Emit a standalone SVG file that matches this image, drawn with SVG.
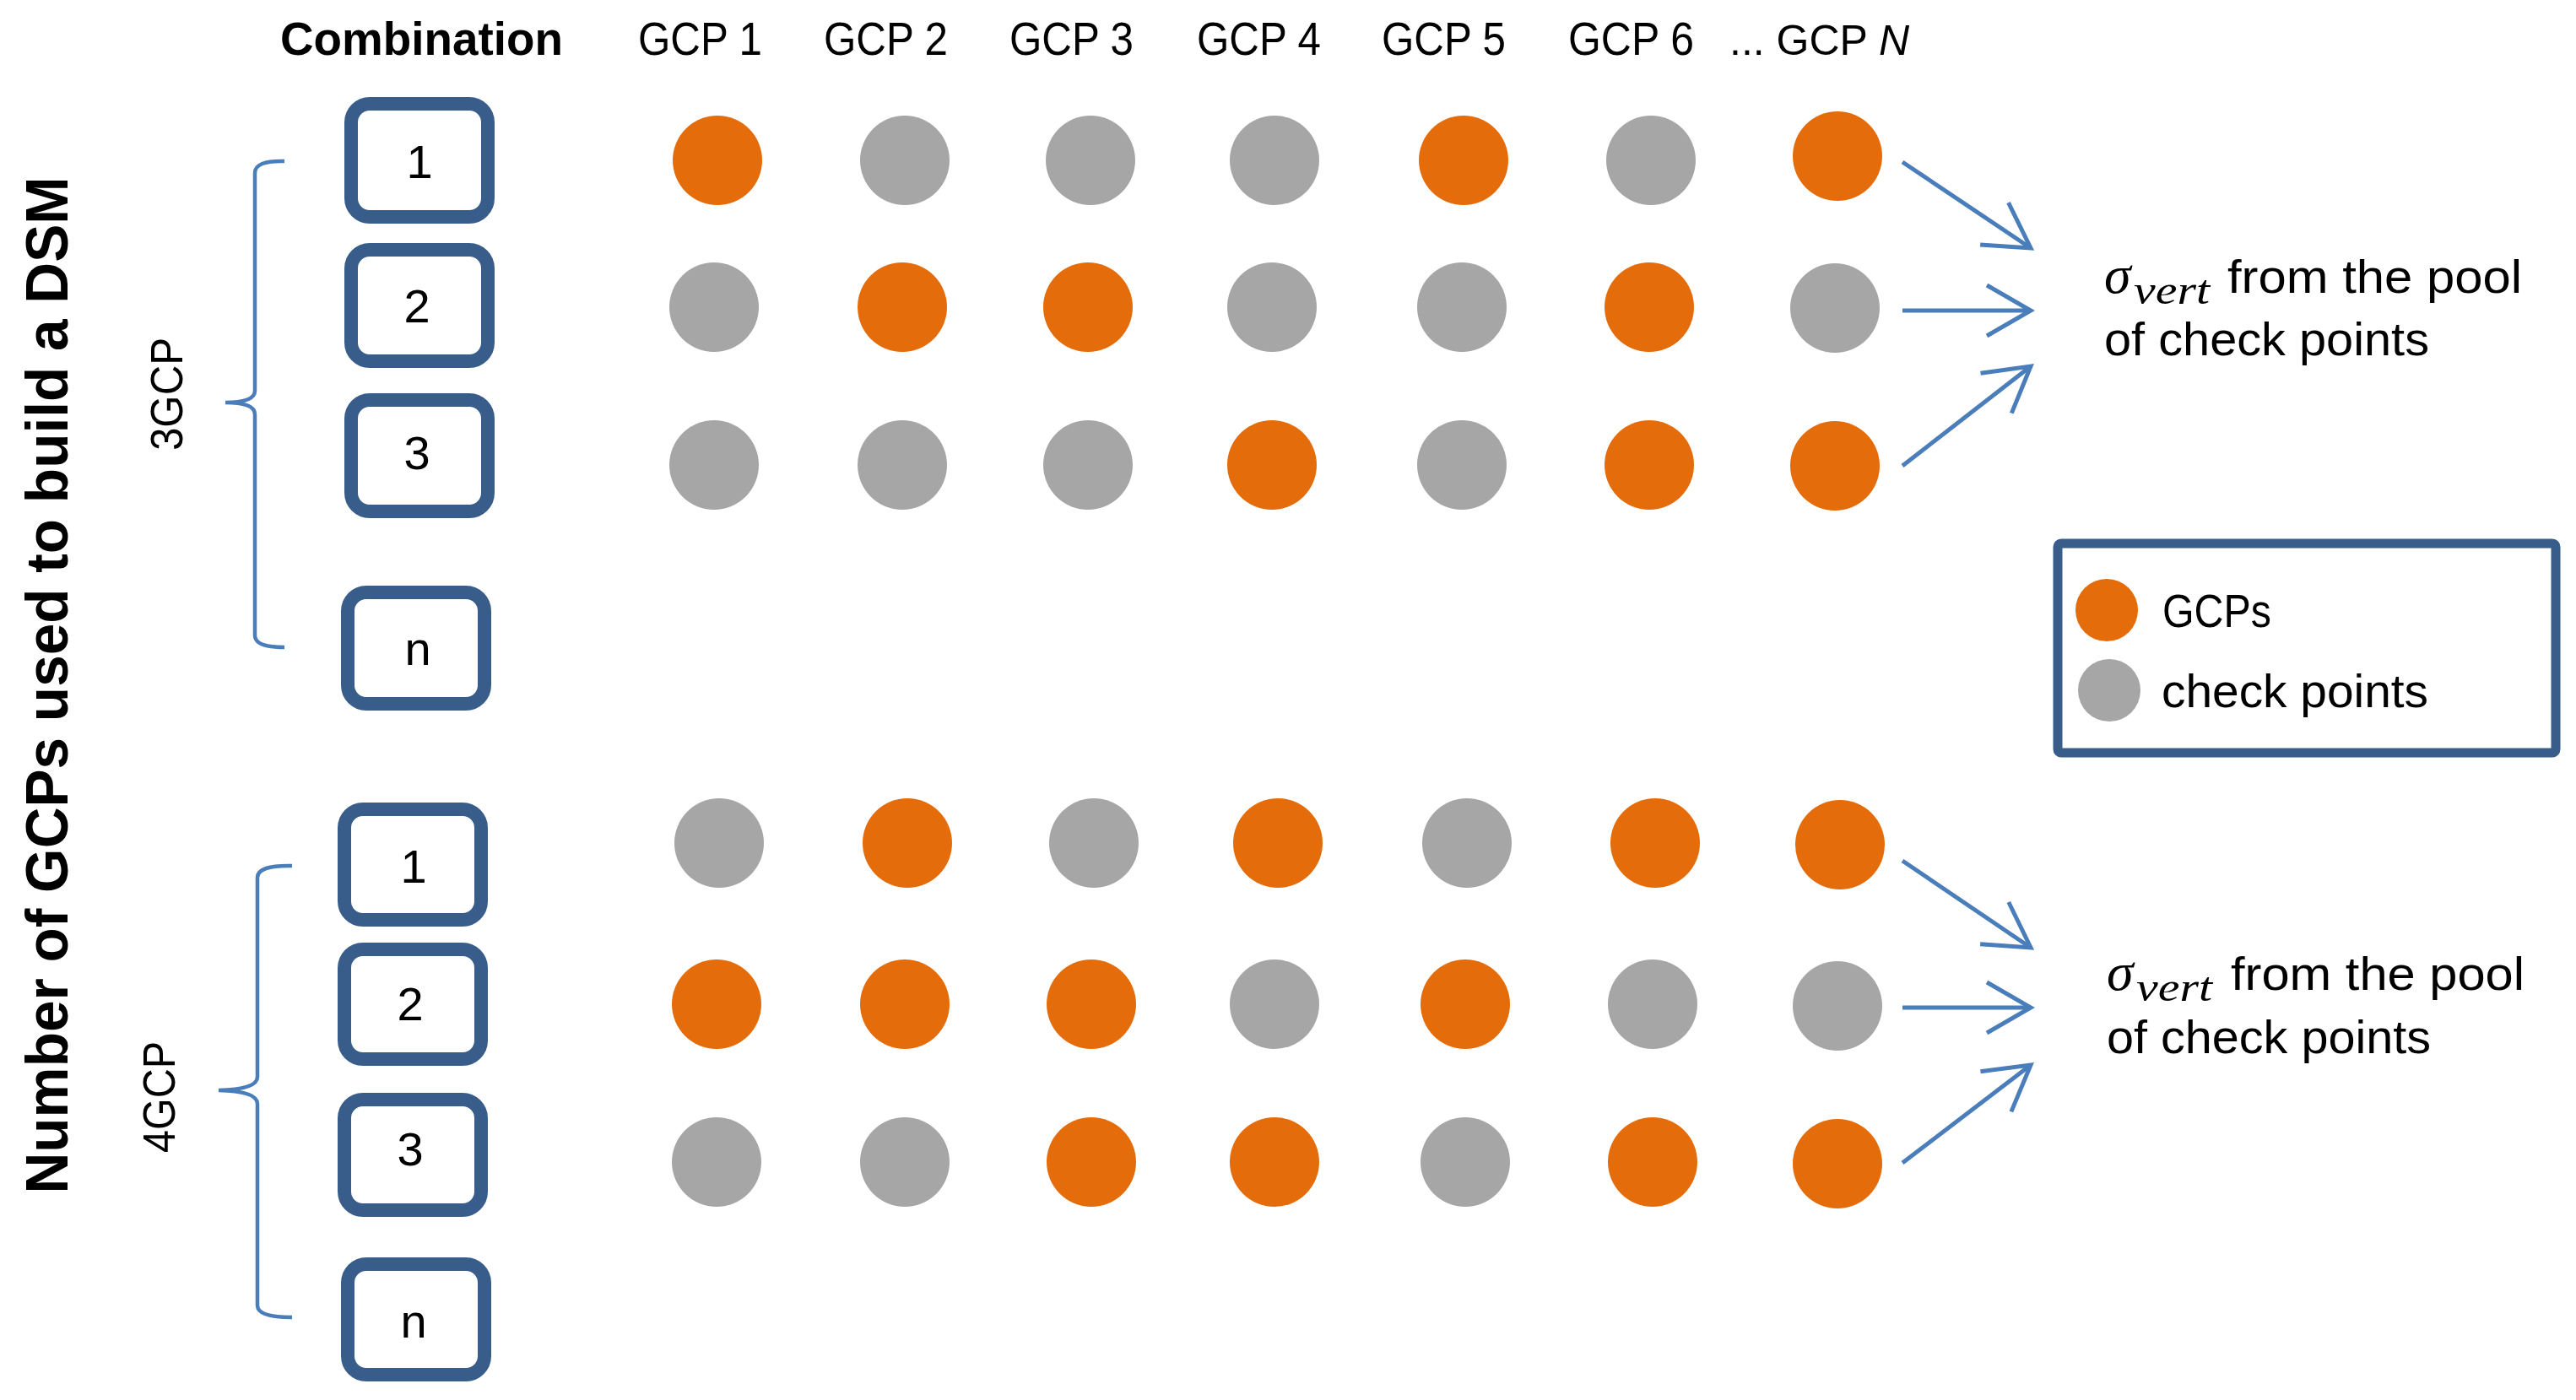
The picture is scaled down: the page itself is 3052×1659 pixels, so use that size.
<svg xmlns="http://www.w3.org/2000/svg" width="3052" height="1659" viewBox="0 0 3052 1659">
<style>
.t{font-family:"Liberation Sans",Arial,sans-serif;fill:#000}
.b{font-weight:bold}
.box{fill:#fff;stroke:#385D8A;stroke-width:16}
.o{fill:#E46C0A}
.g{fill:#A6A6A6}
.br{fill:none;stroke:#4A7EBB;stroke-width:4.5}
.ar{fill:none;stroke:#4A7EBB;stroke-width:5}
.num{font-size:56px;text-anchor:middle}
.m{font-family:"Liberation Serif","Times New Roman",serif;font-style:italic;fill:#000}
</style>
<defs>
<marker id="head" markerUnits="userSpaceOnUse" viewBox="-60 -36 66 72" markerWidth="66" markerHeight="72" refX="0" refY="0" orient="auto">
<path d="M-52,-30 L0,0 L-52,30" fill="none" stroke="#4A7EBB" stroke-width="5"/>
</marker>
</defs>
<rect width="3052" height="1659" fill="#fff"/>

<g id="headers">
<text class="t b" x="332" y="65" font-size="56" textLength="335" lengthAdjust="spacingAndGlyphs">Combination</text>
<text class="t" x="756" y="65" font-size="56" textLength="147" lengthAdjust="spacingAndGlyphs">GCP 1</text>
<text class="t" x="976" y="65" font-size="56" textLength="147" lengthAdjust="spacingAndGlyphs">GCP 2</text>
<text class="t" x="1196" y="65" font-size="56" textLength="147" lengthAdjust="spacingAndGlyphs">GCP 3</text>
<text class="t" x="1418" y="65" font-size="56" textLength="147" lengthAdjust="spacingAndGlyphs">GCP 4</text>
<text class="t" x="1637" y="65" font-size="56" textLength="147" lengthAdjust="spacingAndGlyphs">GCP 5</text>
<text class="t" x="1858" y="65" font-size="56" textLength="149" lengthAdjust="spacingAndGlyphs">GCP 6</text>
<text class="t" x="2049" y="65" font-size="50">... GCP <tspan font-style="italic">N</tspan></text>
</g>

<g id="axis-title">
<text class="t b" transform="translate(80,812) rotate(-90)" x="0" y="0" font-size="70" text-anchor="middle" textLength="1205" lengthAdjust="spacingAndGlyphs">Number of GCPs used to build a DSM</text>
</g>

<g id="group-3gcp">
<path class="br" d="M337,191 Q302,190 302,205 L302,463 Q302,477 267,477 Q302,477 302,491 L302,753 Q302,767 337,767"/>
<text class="t" transform="translate(216,467) rotate(-90)" x="0" y="0" font-size="54" text-anchor="middle" textLength="134" lengthAdjust="spacingAndGlyphs">3GCP</text>
</g>
<g id="group-4gcp">
<path class="br" d="M346,1026 Q305,1025 305,1040 L305,1276 Q305,1291 259,1292 Q305,1293 305,1308 L305,1547 Q305,1561 346,1561"/>
<text class="t" transform="translate(207,1300) rotate(-90)" x="0" y="0" font-size="54" text-anchor="middle" textLength="132" lengthAdjust="spacingAndGlyphs">4GCP</text>
</g>

<g id="box-3-1"><rect class="box" x="416" y="123" width="162" height="134" rx="22"/><text class="t num" x="497" y="211">1</text></g>
<g id="box-3-2"><rect class="box" x="416" y="296" width="162" height="132" rx="22"/><text class="t num" x="494" y="382">2</text></g>
<g id="box-3-3"><rect class="box" x="416" y="474" width="162" height="132" rx="22"/><text class="t num" x="494" y="556">3</text></g>
<g id="box-3-n"><rect class="box" x="412" y="702" width="162" height="132" rx="22"/><text class="t num" x="495" y="788">n</text></g>

<g id="box-4-1"><rect class="box" x="408" y="959" width="162" height="131" rx="22"/><text class="t num" x="490" y="1046">1</text></g>
<g id="box-4-2"><rect class="box" x="408" y="1125" width="162" height="130" rx="22"/><text class="t num" x="486" y="1209">2</text></g>
<g id="box-4-3"><rect class="box" x="408" y="1303" width="162" height="131" rx="22"/><text class="t num" x="486" y="1381">3</text></g>
<g id="box-4-n"><rect class="box" x="412" y="1498" width="162" height="131" rx="22"/><text class="t num" x="490" y="1585">n</text></g>

<g id="row-3-1">
<circle class="o" cx="850" cy="190" r="53"/><circle class="g" cx="1072" cy="190" r="53"/><circle class="g" cx="1292" cy="190" r="53"/><circle class="g" cx="1510" cy="190" r="53"/><circle class="o" cx="1734" cy="190" r="53"/><circle class="g" cx="1956" cy="190" r="53"/><circle class="o" cx="2177" cy="185" r="53"/>
</g>
<g id="row-3-2">
<circle class="g" cx="846" cy="364" r="53"/><circle class="o" cx="1069" cy="364" r="53"/><circle class="o" cx="1289" cy="364" r="53"/><circle class="g" cx="1507" cy="364" r="53"/><circle class="g" cx="1732" cy="364" r="53"/><circle class="o" cx="1954" cy="364" r="53"/><circle class="g" cx="2174" cy="365" r="53"/>
</g>
<g id="row-3-3">
<circle class="g" cx="846" cy="551" r="53"/><circle class="g" cx="1069" cy="551" r="53"/><circle class="g" cx="1289" cy="551" r="53"/><circle class="o" cx="1507" cy="551" r="53"/><circle class="g" cx="1732" cy="551" r="53"/><circle class="o" cx="1954" cy="551" r="53"/><circle class="o" cx="2174" cy="552" r="53"/>
</g>
<g id="row-4-1">
<circle class="g" cx="852" cy="999" r="53"/><circle class="o" cx="1075" cy="999" r="53"/><circle class="g" cx="1296" cy="999" r="53"/><circle class="o" cx="1514" cy="999" r="53"/><circle class="g" cx="1738" cy="999" r="53"/><circle class="o" cx="1961" cy="999" r="53"/><circle class="o" cx="2180" cy="1001" r="53"/>
</g>
<g id="row-4-2">
<circle class="o" cx="849" cy="1190" r="53"/><circle class="o" cx="1072" cy="1190" r="53"/><circle class="o" cx="1293" cy="1190" r="53"/><circle class="g" cx="1510" cy="1190" r="53"/><circle class="o" cx="1736" cy="1190" r="53"/><circle class="g" cx="1958" cy="1190" r="53"/><circle class="g" cx="2177" cy="1192" r="53"/>
</g>
<g id="row-4-3">
<circle class="g" cx="849" cy="1377" r="53"/><circle class="g" cx="1072" cy="1377" r="53"/><circle class="o" cx="1293" cy="1377" r="53"/><circle class="o" cx="1510" cy="1377" r="53"/><circle class="g" cx="1736" cy="1377" r="53"/><circle class="o" cx="1958" cy="1377" r="53"/><circle class="o" cx="2177" cy="1379" r="53"/>
</g>

<g id="connectors">
<line class="ar" x1="2254" y1="192" x2="2406" y2="294" marker-end="url(#head)"/>
<line class="ar" x1="2254" y1="368" x2="2406" y2="368" marker-end="url(#head)"/>
<line class="ar" x1="2254" y1="552" x2="2406" y2="434" marker-end="url(#head)"/>
<line class="ar" x1="2254" y1="1020" x2="2406" y2="1123" marker-end="url(#head)"/>
<line class="ar" x1="2254" y1="1194" x2="2406" y2="1194" marker-end="url(#head)"/>
<line class="ar" x1="2254" y1="1378" x2="2406" y2="1262" marker-end="url(#head)"/>
</g>

<g id="result-3gcp">
<text class="m" x="2493" y="347" font-size="64">σ</text>
<text class="m" x="2528" y="360" font-size="48" textLength="90" lengthAdjust="spacingAndGlyphs">vert</text>
<text class="t" x="2639" y="347" font-size="56" textLength="349" lengthAdjust="spacingAndGlyphs">from the pool</text>
<text class="t" x="2493" y="421" font-size="56" textLength="385" lengthAdjust="spacingAndGlyphs">of check points</text>
</g>
<g id="result-4gcp">
<text class="m" x="2496" y="1173" font-size="64">σ</text>
<text class="m" x="2531" y="1186" font-size="48" textLength="90" lengthAdjust="spacingAndGlyphs">vert</text>
<text class="t" x="2643" y="1173" font-size="56" textLength="348" lengthAdjust="spacingAndGlyphs">from the pool</text>
<text class="t" x="2496" y="1248" font-size="56" textLength="384" lengthAdjust="spacingAndGlyphs">of check points</text>
</g>

<g id="legend">
<rect x="2438" y="644" width="590" height="248" rx="4" fill="#fff" stroke="#385D8A" stroke-width="11"/>
<circle class="o" cx="2496" cy="723" r="37"/>
<circle class="g" cx="2499" cy="818" r="37"/>
<text class="t" x="2562" y="743" font-size="56" textLength="129" lengthAdjust="spacingAndGlyphs">GCPs</text>
<text class="t" x="2561" y="838" font-size="56" textLength="316" lengthAdjust="spacingAndGlyphs">check points</text>
</g>
</svg>
